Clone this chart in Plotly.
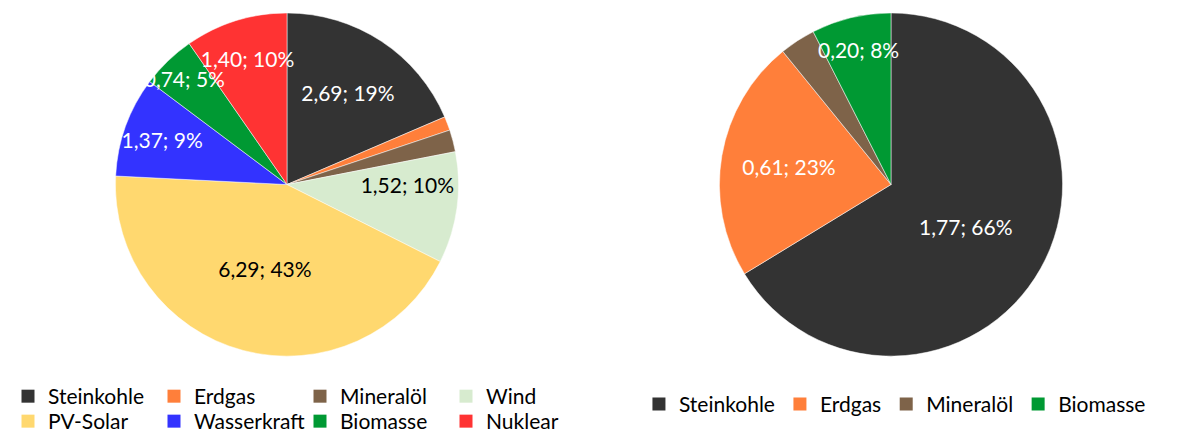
import plotly.graph_objects as go

# Linke Grafik
labels_left = ["Steinkohle", "Erdgas", "Mineralöl", "Wind", "PV-Solar", "Wasserkraft", "Biomasse", "Nuklear"]
values_left = [2.69, 0.19, 0.30, 1.52, 6.29, 1.37, 0.74, 1.40]
text_left = ["2,69; 19%", "", "", "1,52; 10%", "6,29; 43%", "1,37; 9%", "0,74; 5%", "1,40; 10%"]
colors_left = ["#333333", "#FF7F3A", "#7E6349", "#D7EBCF", "#FFD86F", "#3333FF", "#009933", "#FF3333"]
textcolors_left = ["white", "white", "white", "black", "black", "white", "white", "white"]

# Rechte Grafik
labels_right = ["Steinkohle", "Erdgas", "Mineralöl", "Biomasse"]
values_right = [1.77, 0.61, 0.09, 0.20]
text_right = ["1,77; 66%", "0,61; 23%", "", "0,20; 8%"]
colors_right = ["#333333", "#FF7F3A", "#7E6349", "#009933"]
textcolors_right = ["white", "white", "white", "white"]

FONT = "Lato, 'Open Sans', sans-serif"
FS = 21

fig = go.Figure()


def add_pie(labels, values, text, colors, textcolors, xdom):
    common = dict(
        labels=labels,
        values=values,
        sort=False,
        direction="clockwise",
        rotation=0,
        domain=dict(x=xdom, y=[0.196, 0.9885]),
        showlegend=False,
    )
    # Segmente
    fig.add_trace(go.Pie(
        **common,
        textinfo="none",
        marker=dict(colors=colors, line=dict(color="white", width=0.5)),
        hoverinfo="label+value+percent",
    ))
    # Beschriftungen obenauf, damit keine Nachbarsegmente sie verdecken
    fig.add_trace(go.Pie(
        **common,
        text=text,
        texttemplate="%{text}",
        textposition="inside",
        insidetextorientation="horizontal",
        textfont=dict(color=textcolors, size=FS, family=FONT),
        marker=dict(colors=["rgba(0,0,0,0)"] * len(labels), line=dict(width=0)),
        hoverinfo="skip",
    ))


def add_legend(labels, colors, legend_name):
    # Legendeneinträge als unsichtbare Marker
    for lab, col in zip(labels, colors):
        fig.add_trace(go.Scatter(
            x=[None], y=[None],
            mode="markers",
            name=lab,
            marker=dict(symbol="square", size=13, color=col),
            legend=legend_name,
            hoverinfo="skip",
        ))


add_pie(labels_left, values_left, text_left, colors_left, textcolors_left, [0.0907, 0.3822])
add_pie(labels_right, values_right, text_right, colors_right, textcolors_right, [0.6025, 0.8941])
# linke Legende in zwei Zeilen zu je vier Einträgen
add_legend(labels_left[:4], colors_left[:4], "legend")
add_legend(labels_left[4:], colors_left[4:], "legend3")
add_legend(labels_right, colors_right, "legend2")

clear = "rgba(0,0,0,0)"
fig.update_layout(
    width=1180,
    height=434,
    margin=dict(l=0, r=0, t=0, b=0),
    paper_bgcolor="white",
    plot_bgcolor="white",
    font=dict(family=FONT, size=FS, color="black"),
    uniformtext=dict(minsize=FS, mode="show"),
    xaxis=dict(visible=False),
    yaxis=dict(visible=False),
    legend=dict(
        orientation="h",
        x=0, xanchor="left",
        y=0.152, yanchor="top",
        entrywidth=101, entrywidthmode="pixels",
        bgcolor=clear,
    ),
    legend3=dict(
        orientation="h",
        x=0, xanchor="left",
        y=0.092, yanchor="top",
        entrywidth=101, entrywidthmode="pixels",
        bgcolor=clear,
    ),
    legend2=dict(
        orientation="h",
        x=0.5347, xanchor="left",
        y=0.134, yanchor="top",
        bgcolor=clear,
    ),
)

fig.write_html("out.html")
